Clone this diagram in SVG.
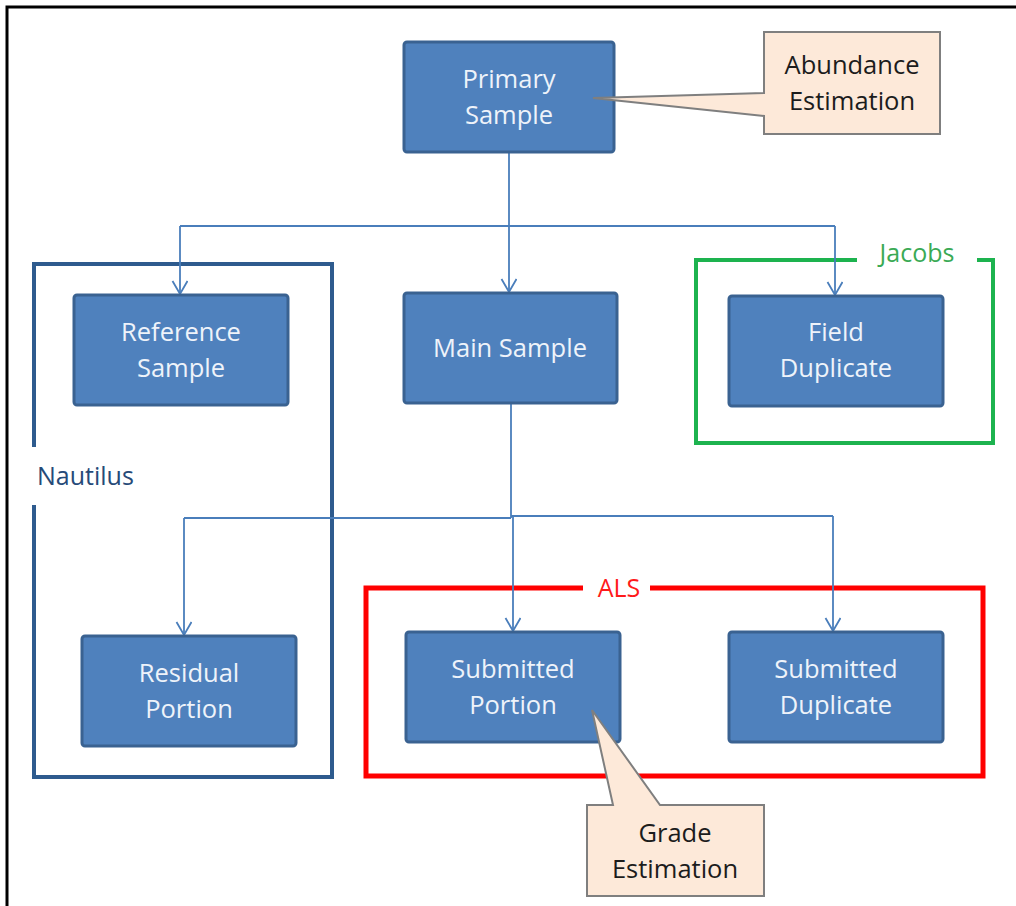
<svg xmlns="http://www.w3.org/2000/svg" width="1016" height="906" viewBox="0 0 1016 906">
<defs>
<marker id="arr" markerUnits="userSpaceOnUse" markerWidth="20" markerHeight="20" refX="14" refY="8" orient="auto" viewBox="0 0 20 20">
<path d="M1,0.5 L14,8 L1,15.5" fill="none" stroke="#4a7ebb" stroke-width="1.8"/>
</marker>
</defs>
<style>
.node{fill:#4f81bd;stroke:#3a6291;stroke-width:3}
.nt{font-family:"Open Sans","Liberation Sans",sans-serif;font-size:25.5px;fill:#eef3fa;text-anchor:middle}
.call{fill:#fde9d9;stroke:#7f7f7f;stroke-width:2;stroke-linejoin:miter}
.ct{font-family:"Open Sans","Liberation Sans",sans-serif;font-size:25.5px;fill:#1c1c1c;text-anchor:middle}
.con{fill:none;stroke:#4a7ebb;stroke-width:1.8}
.lbl{font-family:"Open Sans","Liberation Sans",sans-serif;font-size:25px}
</style>
<rect x="0" y="0" width="1016" height="906" fill="#ffffff"/>
<path d="M7,906 V7 H1016" fill="none" stroke="#000" stroke-width="3"/>

<g id="nautilus">
<path d="M34,447 V264 H332 V777 H34 V505" fill="none" stroke="#2e5b8e" stroke-width="4"/>
<text class="lbl" x="37" y="485" fill="#264a78">Nautilus</text>
</g>
<g id="jacobs">
<path d="M857,260 H696 V443 H993 V260 H977" fill="none" stroke="#1db34f" stroke-width="4"/>
<text class="lbl" x="917" y="262" fill="#3aaa55" text-anchor="middle">Jacobs</text>
</g>
<g id="als">
<path d="M583,588 H366 V776 H983 V588 H650" fill="none" stroke="#ff0000" stroke-width="5"/>
<text class="lbl" x="619" y="597" fill="#ff1a1a" text-anchor="middle">ALS</text>
</g>

<g id="connectors">
<path class="con" d="M509,152 V226"/>
<path class="con" d="M180,226 H835"/>
<path class="con" d="M180,226 V294" marker-end="url(#arr)"/>
<path class="con" d="M509,226 V292" marker-end="url(#arr)"/>
<path class="con" d="M835,226 V295" marker-end="url(#arr)"/>
<path class="con" d="M511,403 V518"/>
<path class="con" d="M184,518 H511"/>
<path class="con" d="M511,516 H833"/>
<path class="con" d="M184,518 V635" marker-end="url(#arr)"/>
<path class="con" d="M513,516 V631" marker-end="url(#arr)"/>
<path class="con" d="M833,516 V631" marker-end="url(#arr)"/>
</g>

<g id="primary">
<rect class="node" x="404" y="42" width="210" height="110" rx="3"/>
<text class="nt" x="509" y="88">Primary</text>
<text class="nt" x="509" y="124">Sample</text>
</g>
<g id="reference">
<rect class="node" x="74" y="295" width="214" height="110" rx="3"/>
<text class="nt" x="181" y="341">Reference</text>
<text class="nt" x="181" y="377">Sample</text>
</g>
<g id="main">
<rect class="node" x="404" y="293" width="213" height="110" rx="3"/>
<text class="nt" x="510" y="357">Main Sample</text>
</g>
<g id="field">
<rect class="node" x="729" y="296" width="214" height="110" rx="3"/>
<text class="nt" x="836" y="341">Field</text>
<text class="nt" x="836" y="377">Duplicate</text>
</g>
<g id="residual">
<rect class="node" x="82" y="636" width="214" height="110" rx="3"/>
<text class="nt" x="189" y="682">Residual</text>
<text class="nt" x="189" y="718">Portion</text>
</g>
<g id="submitted">
<rect class="node" x="406" y="632" width="214" height="110" rx="3"/>
<text class="nt" x="513" y="678">Submitted</text>
<text class="nt" x="513" y="714">Portion</text>
</g>
<g id="subdup">
<rect class="node" x="729" y="632" width="214" height="110" rx="3"/>
<text class="nt" x="836" y="678">Submitted</text>
<text class="nt" x="836" y="714">Duplicate</text>
</g>

<g id="abundance">
<path class="call" d="M764,32 H940 V134 H764 V116 L593,98 L764,93 Z"/>
<text class="ct" x="852" y="74">Abundance</text>
<text class="ct" x="852" y="110">Estimation</text>
</g>
<g id="grade">
<path class="call" d="M587,805 H613 L592,710 L660,805 H764 V896 H587 Z"/>
<text class="ct" x="675" y="842">Grade</text>
<text class="ct" x="675" y="878">Estimation</text>
</g>
</svg>
